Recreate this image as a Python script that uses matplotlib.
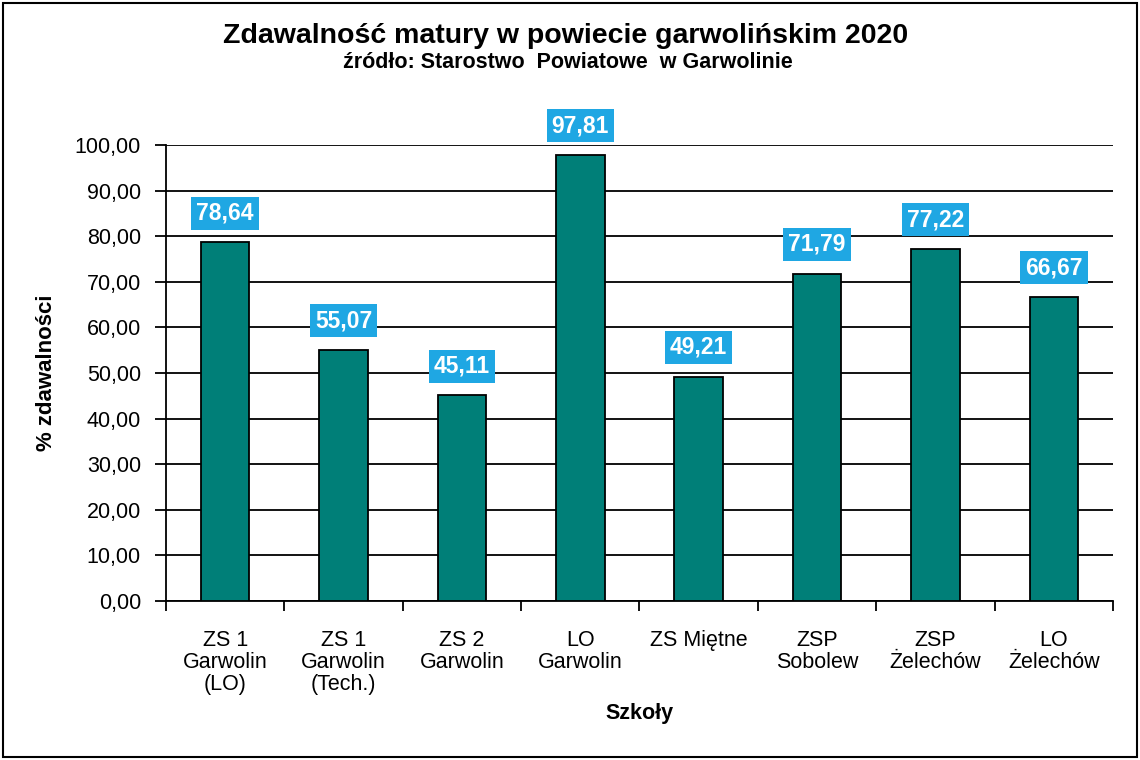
import matplotlib
matplotlib.use("Agg")
import matplotlib.pyplot as plt
import numpy as np
from matplotlib.patches import Rectangle
from matplotlib.ticker import FuncFormatter, FixedLocator

plt.rcParams['font.family'] = ['Liberation Sans', 'DejaVu Sans']

# data
schools = ["ZS 1\nGarwolin\n(LO)", "ZS 1\nGarwolin\n(Tech.)", "ZS 2\nGarwolin", "LO\nGarwolin",
           "ZS Miętne", "ZSP\nSobolew", "ZSP\nŻelechów", "LO\nŻelechów"]
pass_rate = [78.64, 55.07, 45.11, 97.81, 49.21, 71.79, 77.22, 66.67]
y_ticks = np.arange(0, 101, 10)

bar_color = "#007F78"
label_bg = "#1FA7E3"

fig = plt.figure(figsize=(11.4, 7.6), dpi=100)
ax = fig.add_axes([0.1456, 0.2092, 0.8307, 0.6000])

x = np.arange(len(schools))
ax.bar(x, pass_rate, width=0.41, color=bar_color, edgecolor="black", linewidth=1.3, zorder=3)

ax.set_xlim(-0.5, len(schools) - 0.5)
ax.set_ylim(0, 100)
ax.set_yticks(y_ticks)
ax.yaxis.set_major_formatter(FuncFormatter(lambda v, p: f"{v:.2f}".replace(".", ",")))
ax.yaxis.grid(True, color="black", linewidth=1.3, zorder=1)
ax.set_axisbelow(True)

ax.set_xticks(x)
ax.set_xticklabels(schools, fontsize=15.5, linespacing=1.05)
ax.xaxis.set_minor_locator(FixedLocator(np.arange(-0.5, len(schools), 1)))
ax.tick_params(axis="x", which="major", length=0, pad=21)
ax.tick_params(axis="x", which="minor", length=7, width=1.3, direction="out")
ax.tick_params(axis="y", length=8, width=1.3, direction="out", labelsize=15.5, pad=10)

for s in ["top", "right"]:
    ax.spines[s].set_visible(False)
for s in ["left", "bottom"]:
    ax.spines[s].set_linewidth(1.3)

for xi, v in zip(x, pass_rate):
    ax.text(xi, v + 6.4, f"{v:.2f}".replace(".", ","), ha="center", va="center",
            color="white", fontsize=16.5, fontweight="bold", zorder=5,
            bbox=dict(boxstyle="square,pad=0.22", facecolor=label_bg, edgecolor="none"))

ax.set_ylabel("% zdawalności", fontsize=16, fontweight="bold", labelpad=13)
ax.set_xlabel("Szkoły", fontsize=15.5, fontweight="bold", labelpad=6)

fig.text(0.4965, 0.953, "Zdawalność matury w powiecie garwolińskim 2020", ha="center", va="center",
         fontsize=20.5, fontweight="bold")
fig.text(0.498, 0.918, "źródło: Starostwo  Powiatowe  w Garwolinie", ha="center", va="center",
         fontsize=15.5, fontweight="bold")

fig.patches.append(Rectangle((0.003, 0.004), 0.994, 0.992, transform=fig.transFigure,
                             fill=False, edgecolor="black", linewidth=1.5))

fig.savefig("out.png", dpi=100, facecolor="white")
